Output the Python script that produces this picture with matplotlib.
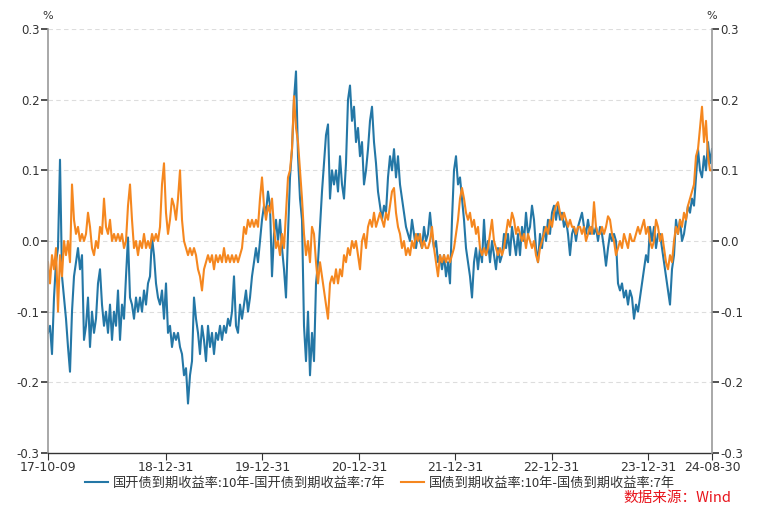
import matplotlib
matplotlib.use("Agg")
import matplotlib.pyplot as plt
import pandas as pd

plt.rcParams['font.family'] = ['Noto Sans CJK SC', 'DejaVu Sans']

start_date = "2017-10-09"
end_date = "2024-08-30"

# 国开债到期收益率:10年-国开债到期收益率:7年 (%)
cdb_spread = [
    -0.13, -0.12, -0.16, -0.08, -0.03, -0.01, 0.115, -0.05, -0.08, -0.11,
    -0.15, -0.185, -0.10, -0.05, -0.03, -0.01, -0.04, -0.02, -0.14, -0.12,
    -0.08, -0.15, -0.10, -0.13, -0.11, -0.06, -0.04, -0.09, -0.12, -0.10,
    -0.13, -0.09, -0.14, -0.10, -0.12, -0.07, -0.14, -0.09, -0.11, -0.05,
    0.005, -0.08, -0.09, -0.11, -0.08, -0.10, -0.08, -0.10, -0.07, -0.09,
    -0.06, -0.05, 0.005, -0.02, -0.06, -0.08, -0.09, -0.07, -0.11, -0.06,
    -0.13, -0.12, -0.15, -0.13, -0.14, -0.13, -0.15, -0.16, -0.19, -0.18,
    -0.23, -0.19, -0.17, -0.08, -0.11, -0.13, -0.16, -0.12, -0.14, -0.17,
    -0.12, -0.15, -0.13, -0.16, -0.13, -0.14, -0.12, -0.14, -0.12, -0.13,
    -0.11, -0.12, -0.10, -0.05, -0.12, -0.13, -0.09, -0.11, -0.09, -0.07,
    -0.10, -0.08, -0.05, -0.03, -0.01, -0.03, 0.00, 0.03, 0.05, 0.04,
    0.07, 0.05, -0.05, 0.01, 0.03, 0.00, 0.03, -0.01, -0.04, -0.08,
    0.01, 0.09, 0.13, 0.20, 0.24, 0.12, 0.06, 0.03, -0.12, -0.17,
    -0.10, -0.19, -0.13, -0.17, -0.06, -0.03, 0.02, 0.07, 0.11, 0.15,
    0.165, 0.06, 0.10, 0.08, 0.10, 0.07, 0.12, 0.08, 0.06, 0.11,
    0.20, 0.22, 0.17, 0.19, 0.14, 0.16, 0.12, 0.14, 0.08, 0.10,
    0.13, 0.17, 0.19, 0.14, 0.11, 0.07, 0.05, 0.03, 0.05, 0.04,
    0.09, 0.12, 0.10, 0.13, 0.09, 0.12, 0.08, 0.06, 0.04, 0.02,
    0.01, 0.00, 0.03, 0.01, -0.01, 0.01, 0.00, -0.01, 0.02, 0.00,
    0.01, 0.04, 0.01, -0.01, 0.00, -0.03, -0.02, -0.04, -0.02, -0.05,
    -0.03, -0.06, 0.03, 0.10, 0.12, 0.08, 0.09, 0.06, 0.03, -0.01,
    -0.03, -0.05, -0.08, -0.03, -0.01, -0.04, -0.01, -0.03, 0.03, -0.02,
    0.00, -0.03, 0.00, -0.02, -0.04, -0.01, -0.03, -0.02, 0.01, -0.01,
    0.01, -0.02, 0.02, 0.00, -0.02, 0.01, -0.02, 0.02, 0.00, 0.04,
    0.01, 0.02, 0.05, 0.03, -0.01, -0.03, 0.01, -0.01, 0.02, 0.00,
    0.03, 0.01, 0.04, 0.05, 0.03, 0.05, 0.03, 0.04, 0.02, 0.03,
    0.01, -0.02, 0.01, 0.02, 0.00, 0.02, 0.03, 0.04, 0.02, 0.01,
    0.03, 0.01, 0.02, 0.01, 0.02, 0.00, 0.02, 0.01, -0.01, -0.035,
    -0.01, 0.01, 0.00, 0.01, 0.00, -0.06, -0.07, -0.06, -0.08, -0.07,
    -0.09, -0.07, -0.08, -0.11, -0.09, -0.10, -0.08, -0.06, -0.04, -0.02,
    -0.03, 0.02, 0.00, 0.02, -0.01, 0.01, 0.01, -0.01, -0.03, -0.05,
    -0.07, -0.09, -0.04, -0.02, 0.03, 0.01, 0.03, 0.00, 0.01, 0.03,
    0.05, 0.04, 0.06, 0.05, 0.09, 0.13, 0.10, 0.09, 0.12, 0.10,
    0.14, 0.11, 0.13,
]

# 国债到期收益率:10年-国债到期收益率:7年 (%)
gov_spread = [
    -0.03, -0.06, -0.02, -0.04, -0.01, -0.10, -0.02, -0.05, 0.00, -0.02,
    0.00, -0.03, 0.08, 0.03, 0.01, 0.02, 0.00, 0.01, 0.00, 0.01,
    0.04, 0.02, -0.01, -0.02, 0.00, -0.01, 0.02, 0.01, 0.06, 0.02,
    0.01, 0.03, 0.00, 0.01, 0.00, 0.01, 0.00, 0.01, -0.01, 0.00,
    0.05, 0.08, 0.03, -0.01, 0.00, -0.02, 0.00, -0.01, 0.01, -0.01,
    0.00, -0.01, 0.01, 0.00, 0.01, 0.00, 0.02, 0.08, 0.11, 0.04,
    0.01, 0.03, 0.06, 0.05, 0.03, 0.06, 0.10, 0.03, 0.00, -0.01,
    -0.02, -0.01, -0.02, -0.01, -0.02, -0.04, -0.05, -0.07, -0.04, -0.03,
    -0.02, -0.03, -0.02, -0.04, -0.02, -0.03, -0.02, -0.03, -0.01, -0.03,
    -0.02, -0.03, -0.02, -0.03, -0.02, -0.03, -0.02, -0.01, 0.02, 0.01,
    0.03, 0.02, 0.03, 0.02, 0.03, 0.02, 0.06, 0.09, 0.05, 0.03,
    0.05, 0.04, 0.06, 0.02, -0.01, 0.00, -0.02, 0.01, -0.01, 0.04,
    0.09, 0.10, 0.13, 0.205, 0.16, 0.14, 0.10, 0.06, 0.01, -0.02,
    0.00, -0.03, 0.02, 0.01, -0.03, -0.06, -0.03, -0.05, -0.07, -0.09,
    -0.11, -0.06, -0.05, -0.06, -0.04, -0.06, -0.04, -0.05, -0.02, -0.03,
    -0.01, -0.02, 0.00, -0.01, 0.00, -0.02, -0.04, 0.00, 0.01, -0.01,
    0.02, 0.03, 0.02, 0.04, 0.02, 0.03, 0.04, 0.03, 0.02, 0.04,
    0.03, 0.05, 0.07, 0.075, 0.04, 0.02, 0.01, -0.01, 0.00, -0.02,
    -0.01, -0.02, 0.00, -0.01, 0.01, 0.00, 0.01, -0.01, 0.00, -0.01,
    -0.01, 0.00, 0.02, -0.01, -0.03, -0.05, -0.02, -0.03, -0.02, -0.03,
    -0.02, -0.03, -0.02, -0.01, 0.01, 0.03, 0.06, 0.075, 0.06, 0.04,
    0.03, 0.04, 0.02, 0.03, 0.01, 0.02, -0.01, -0.02, -0.01, -0.02,
    -0.01, 0.01, 0.03, 0.00, -0.01, -0.02, -0.01, -0.02, -0.01, 0.01,
    0.03, 0.02, 0.04, 0.03, 0.01, 0.02, 0.01, 0.00, 0.01, -0.01,
    0.01, 0.00, -0.01, 0.00, -0.02, -0.03, -0.01, 0.00, 0.01, 0.02,
    0.01, 0.03, 0.02, 0.04, 0.05, 0.055, 0.04, 0.03, 0.04, 0.03,
    0.02, 0.03, 0.02, 0.02, 0.01, 0.02, 0.02, 0.01, 0.02, 0.00,
    0.01, 0.02, 0.01, 0.055, 0.02, 0.01, 0.01, 0.02, 0.01, 0.02,
    0.035, 0.03, 0.01, 0.00, -0.02, -0.01, 0.00, -0.01, 0.01, 0.00,
    -0.01, 0.01, 0.00, 0.00, 0.01, 0.02, 0.01, 0.02, 0.03, 0.01,
    0.02, 0.00, -0.01, 0.00, 0.03, 0.02, 0.00, 0.01, -0.01, -0.03,
    -0.04, -0.02, -0.03, 0.00, 0.02, 0.01, 0.03, 0.02, 0.04, 0.03,
    0.05, 0.06, 0.07, 0.08, 0.12, 0.13, 0.16, 0.19, 0.14, 0.17,
    0.12, 0.10, 0.10,
]

tick_dates = ["2017-10-09", "2018-12-31", "2019-12-31", "2020-12-31",
              "2021-12-31", "2022-12-31", "2023-12-31", "2024-08-30"]
tick_labels = ["17-10-09", "18-12-31", "19-12-31", "20-12-31",
               "21-12-31", "22-12-31", "23-12-31", "24-08-30"]
y_ticks = [-0.3, -0.2, -0.1, 0.0, 0.1, 0.2, 0.3]

label_cdb = "国开债到期收益率:10年-国开债到期收益率:7年"
label_gov = "国债到期收益率:10年-国债到期收益率:7年"

dates_cdb = pd.date_range(start_date, end_date, periods=len(cdb_spread))
dates_gov = pd.date_range(start_date, end_date, periods=len(gov_spread))

blue = "#2477a6"
orange = "#f5871f"
txt = "#333333"
num_font = "DejaVu Sans"

fig = plt.figure(figsize=(7.6, 5.15), dpi=100)
ax = fig.add_axes([48/760, 1-453/515, (712-48)/760, (453-29)/515])

l1, = ax.plot(dates_cdb, cdb_spread, color=blue, lw=1.5, label=label_cdb)
l2, = ax.plot(dates_gov, gov_spread, color=orange, lw=1.5, label=label_gov)

ax.set_xlim(pd.Timestamp(start_date), pd.Timestamp(end_date))
ax.set_ylim(-0.3, 0.3)
ax.set_yticks(y_ticks)
ax.set_yticklabels([f"{v:.1f}" for v in y_ticks], family=num_font, fontsize=8.5)
ax.set_xticks(pd.to_datetime(tick_dates))
ax.set_xticklabels(tick_labels, family=num_font, fontsize=9)

for v in y_ticks[1:]:
    ax.axhline(v, color="#dddddd", lw=0.8, ls=(0, (4, 3)), zorder=0)

ax.spines['top'].set_visible(False)
ax.spines['right'].set_visible(False)
ax.spines['left'].set_color("#999999")
ax.spines['left'].set_linewidth(1.2)
ax.spines['bottom'].set_color("#333333")
ax.spines['bottom'].set_linewidth(1.0)
ax.tick_params(axis='y', direction='out', length=5, width=1.2, color=txt,
               labelcolor=txt, pad=1)
ax.tick_params(axis='x', direction='out', length=5, width=0.8, color=txt,
               labelcolor=txt, pad=1)

ax2 = ax.twinx()
ax2.set_ylim(-0.3, 0.3)
ax2.set_yticks(y_ticks)
ax2.set_yticklabels([f"{v:.1f}" for v in y_ticks], family=num_font, fontsize=8.5)
for s in ['top', 'left', 'bottom']:
    ax2.spines[s].set_visible(False)
ax2.spines['right'].set_color("#999999")
ax2.spines['right'].set_linewidth(1.2)
ax2.tick_params(axis='y', direction='out', length=5, width=1.2, color=txt,
                labelcolor=txt, pad=1)

fig.text(48/760, 1-16/515, "%", ha='center', va='center', fontsize=8, color=txt,
         family=num_font)
fig.text(712/760, 1-16/515, "%", ha='center', va='center', fontsize=8, color=txt,
         family=num_font)

fig.legend(handles=[l1, l2], loc='center', bbox_to_anchor=(0.5, 1-483/515),
           ncol=2, frameon=False, fontsize=9.5, handlelength=1.75,
           columnspacing=1.1, handletextpad=0.4, labelcolor=txt)

fig.text(731/760, 1-498/515, "数据来源：Wind", ha='right', va='center',
         fontsize=10.5, color="#e8141c")

fig.savefig("out.png", dpi=100)
